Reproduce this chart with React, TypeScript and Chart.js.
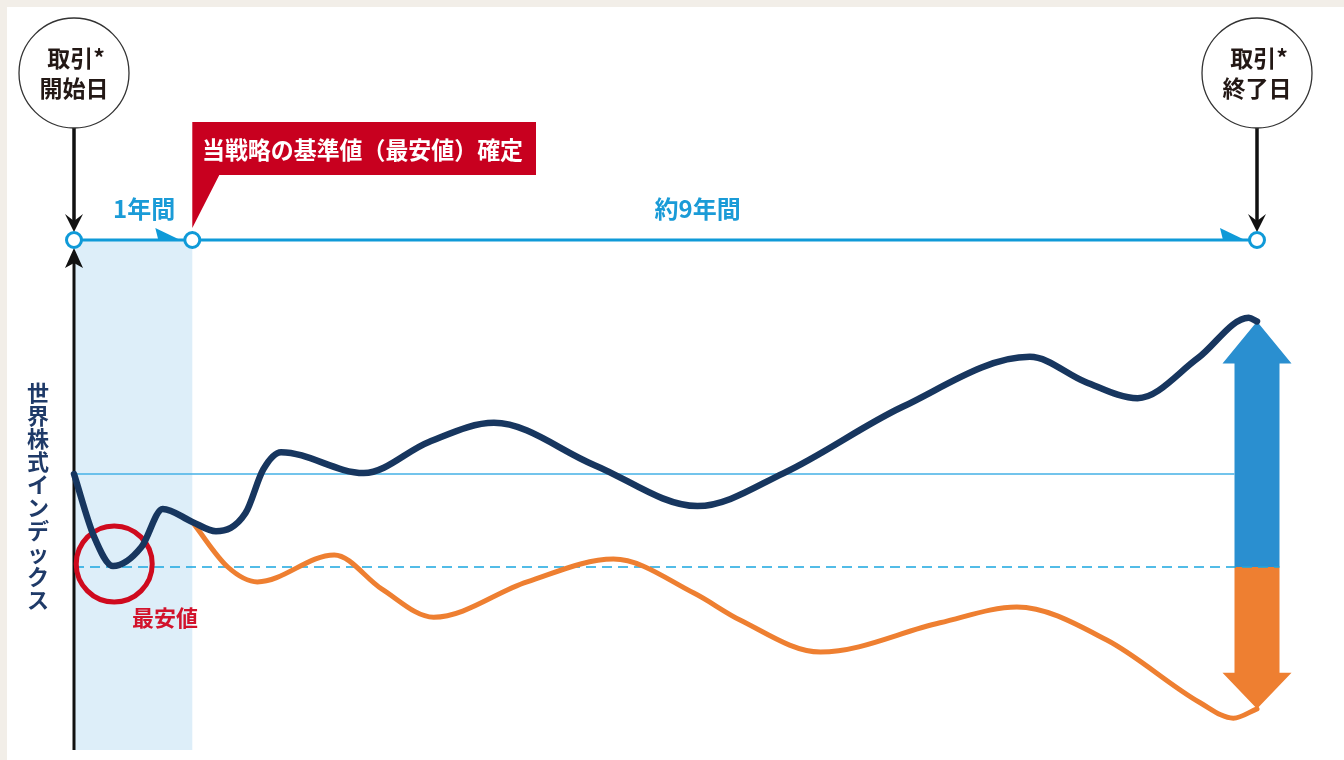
import React, { useEffect, useRef } from "react";
import { Chart, registerables } from "chart.js";

Chart.register(...registerables);

// Years since the trade start date (x) and index level (y, start = 100)
const navyX = [0, 0.17, 0.33, 0.57, 0.75, 1.0, 1.2, 1.45, 1.6, 1.75, 2.45, 3.0, 3.55, 4.4, 5.27, 6.0, 7.0, 8.08, 8.55, 8.99, 9.5, 9.93, 10];
const navyY = [100, 86.5, 80.2, 84.3, 92.5, 89.7, 87.7, 91.6, 101.0, 104.7, 100.2, 106.9, 111.0, 101.9, 93.1, 100.2, 114.4, 125.2, 119.8, 116.3, 124.9, 133.6, 132.8];

const orangeX = [1.0, 1.3, 1.55, 2.2, 2.6, 3.04, 3.83, 4.56, 5.24, 5.63, 6.31, 7.32, 7.97, 8.73, 9.52, 9.8, 10];
const orangeY = [89.7, 80.0, 76.8, 82.6, 75.3, 69.2, 76.8, 81.7, 74.4, 68.6, 61.7, 68.0, 71.4, 64.3, 50.8, 47.5, 49.5];

const startLevel = 100;
const minLevel = 80;
const startYear = 0;
const fixYear = 1;
const endYear = 10;

const startLabel = ["取引*", "開始日"];
const endLabel = ["取引*", "終了日"];
const calloutLabel = "当戦略の基準値（最安値）確定";
const firstPeriodLabel = "1年間";
const restPeriodLabel = "約9年間";
const minLabel = "最安値";
const yAxisLabel = "世界株式インデックス";

const JP = '"Noto Sans CJK JP", "Noto Sans", sans-serif';

const decorPlugin = {
  id: "decor",
  beforeDraw(chart: any) {
    const { ctx, width, height } = chart;
    ctx.save();
    ctx.fillStyle = "#f2eee8";
    ctx.fillRect(0, 0, width, height);
    ctx.fillStyle = "#ffffff";
    ctx.fillRect(7, 7, width - 7, height - 7);
    ctx.restore();
  },
  beforeDatasetsDraw(chart: any) {
    const { ctx } = chart;
    const xs = chart.scales.x;
    const ys = chart.scales.y;
    const X = (v: number) => xs.getPixelForValue(v);
    const Y = (v: number) => ys.getPixelForValue(v);
    const tlY = 240;
    const x0 = X(startYear);
    const x1 = X(fixYear);
    const xe = X(endYear);
    ctx.save();
    // shaded first year
    ctx.fillStyle = "#ddeef9";
    ctx.fillRect(x0 + 1, tlY, x1 - x0 - 1, 750 - tlY);

    // vertical axis with arrow
    ctx.strokeStyle = "#111";
    ctx.lineWidth = 3;
    ctx.beginPath();
    ctx.moveTo(x0, 750);
    ctx.lineTo(x0, 262);
    ctx.stroke();
    ctx.fillStyle = "#111";
    ctx.beginPath();
    ctx.moveTo(x0, 248);
    ctx.lineTo(x0 - 9, 268);
    ctx.lineTo(x0, 263);
    ctx.lineTo(x0 + 9, 268);
    ctx.closePath();
    ctx.fill();

    // arrows at the end
    const shaftHalf = 22.5;
    const headHalf = 34.5;
    const yMin = Y(minLevel);
    const yTop = Y(navyY[navyY.length - 1]);
    const yBot = Y(orangeY[orangeY.length - 1]);
    ctx.fillStyle = "#2a8fd0";
    ctx.beginPath();
    ctx.moveTo(xe - shaftHalf, yMin);
    ctx.lineTo(xe - shaftHalf, yTop + 42);
    ctx.lineTo(xe - headHalf, yTop + 42);
    ctx.lineTo(xe, yTop);
    ctx.lineTo(xe + headHalf, yTop + 42);
    ctx.lineTo(xe + shaftHalf, yTop + 42);
    ctx.lineTo(xe + shaftHalf, yMin);
    ctx.closePath();
    ctx.fill();
    ctx.fillStyle = "#ee7f31";
    ctx.beginPath();
    ctx.moveTo(xe - shaftHalf, yMin);
    ctx.lineTo(xe - shaftHalf, yBot - 36);
    ctx.lineTo(xe - headHalf, yBot - 36);
    ctx.lineTo(xe, yBot);
    ctx.lineTo(xe + headHalf, yBot - 36);
    ctx.lineTo(xe + shaftHalf, yBot - 36);
    ctx.lineTo(xe + shaftHalf, yMin);
    ctx.closePath();
    ctx.fill();

    // start level (solid) and minimum level (dashed)
    ctx.strokeStyle = "#45b0e6";
    ctx.lineWidth = 1.6;
    ctx.beginPath();
    ctx.moveTo(x0, Y(startLevel));
    ctx.lineTo(xe - shaftHalf, Y(startLevel));
    ctx.stroke();
    ctx.strokeStyle = "#1aa6e0";
    ctx.setLineDash([10, 6]);
    ctx.beginPath();
    ctx.moveTo(x0, yMin);
    ctx.lineTo(xe + shaftHalf, yMin);
    ctx.stroke();
    ctx.setLineDash([]);

    // red circle around the minimum
    ctx.strokeStyle = "#cf0a1e";
    ctx.lineWidth = 5;
    ctx.beginPath();
    ctx.arc(X(0.34), yMin - 3, 38, 0, Math.PI * 2);
    ctx.stroke();
    ctx.restore();
  },
  afterDatasetsDraw(chart: any) {
    const { ctx } = chart;
    const xs = chart.scales.x;
    const X = (v: number) => xs.getPixelForValue(v);
    const tlY = 240;
    const x0 = X(startYear);
    const x1 = X(fixYear);
    const xe = X(endYear);
    const blue = "#0f9ad8";
    ctx.save();

    // timeline
    ctx.strokeStyle = blue;
    ctx.lineWidth = 3;
    ctx.beginPath();
    ctx.moveTo(x0, tlY);
    ctx.lineTo(xe, tlY);
    ctx.stroke();
    ctx.fillStyle = blue;
    const flag = (xr: number) => {
      ctx.beginPath();
      ctx.moveTo(xr - 25, tlY - 12);
      ctx.lineTo(xr - 22, tlY);
      ctx.lineTo(xr, tlY);
      ctx.closePath();
      ctx.fill();
    };
    flag(x1 - 12);
    flag(xe - 12);

    // down arrows from the circles
    const downArrow = (x: number) => {
      ctx.strokeStyle = "#111";
      ctx.lineWidth = 3.5;
      ctx.beginPath();
      ctx.moveTo(x, 128);
      ctx.lineTo(x, 222);
      ctx.stroke();
      ctx.fillStyle = "#111";
      ctx.beginPath();
      ctx.moveTo(x, 232);
      ctx.lineTo(x - 9, 214);
      ctx.lineTo(x, 221);
      ctx.lineTo(x + 9, 214);
      ctx.closePath();
      ctx.fill();
    };
    downArrow(x0);
    downArrow(xe);

    // timeline markers
    [x0, x1, xe].forEach((x) => {
      ctx.beginPath();
      ctx.arc(x, tlY, 7.5, 0, Math.PI * 2);
      ctx.fillStyle = "#fff";
      ctx.fill();
      ctx.strokeStyle = blue;
      ctx.lineWidth = 3;
      ctx.stroke();
    });

    // date circles
    const dateCircle = (x: number, lines: string[]) => {
      ctx.beginPath();
      ctx.arc(x, 73, 55, 0, Math.PI * 2);
      ctx.fillStyle = "#fff";
      ctx.fill();
      ctx.strokeStyle = "#333";
      ctx.lineWidth = 1.3;
      ctx.stroke();
      ctx.fillStyle = "#231815";
      ctx.font = `bold 23px ${JP}`;
      ctx.textAlign = "center";
      ctx.textBaseline = "middle";
      ctx.fillText(lines[0], x + 2, 58);
      ctx.fillText(lines[1], x, 88);
    };
    dateCircle(x0, startLabel);
    dateCircle(xe, endLabel);

    // callout
    ctx.fillStyle = "#c8001f";
    ctx.beginPath();
    ctx.moveTo(x1, 122);
    ctx.lineTo(536, 122);
    ctx.lineTo(536, 175);
    ctx.lineTo(x1 + 27, 175);
    ctx.lineTo(x1, 228);
    ctx.closePath();
    ctx.fill();
    ctx.fillStyle = "#fff";
    ctx.font = `bold 24px ${JP}`;
    ctx.textAlign = "left";
    ctx.textBaseline = "middle";
    const w = ctx.measureText(calloutLabel).width;
    const target = 321;
    ctx.save();
    ctx.translate(202, 150);
    ctx.scale(target / w, 1);
    ctx.fillText(calloutLabel, 0, 0);
    ctx.restore();

    // period labels
    ctx.fillStyle = "#1a9bd7";
    ctx.font = `bold 24px ${JP}`;
    ctx.textAlign = "center";
    ctx.fillText(firstPeriodLabel, (x0 + x1) / 2 + 11, 209);
    ctx.fillText(restPeriodLabel, (x1 + xe) / 2 - 27, 209);

    // minimum label
    ctx.fillStyle = "#d2132c";
    ctx.font = `bold 22px ${JP}`;
    ctx.fillText(minLabel, X(0.77), 618);

    // vertical y label
    ctx.fillStyle = "#1f3a68";
    ctx.font = `bold 22px ${JP}`;
    const chars = Array.from(yAxisLabel);
    chars.forEach((c, i) => {
      ctx.fillText(c, 38, 393 + i * 23);
    });
    ctx.restore();
  },
};

export default function App() {
  const ref = useRef<HTMLCanvasElement | null>(null);
  useEffect(() => {
    if (!ref.current) return;
    const chart = new Chart(ref.current, {
      type: "line",
      data: {
        datasets: [
          {
            label: "世界株式インデックス",
            data: navyX.map((x, i) => ({ x, y: navyY[i] })),
            borderColor: "#17365f",
            borderWidth: 6.5,
            borderCapStyle: "round",
            borderJoinStyle: "round",
            cubicInterpolationMode: "monotone",
            pointRadius: 0,
            fill: false,
            clip: 20,
          },
          {
            label: "当戦略",
            data: orangeX.map((x, i) => ({ x, y: orangeY[i] })),
            borderColor: "#ee7f31",
            borderWidth: 5,
            borderCapStyle: "round",
            borderJoinStyle: "round",
            cubicInterpolationMode: "monotone",
            pointRadius: 0,
            fill: false,
            clip: 20,
          },
        ],
      },
      options: {
        animation: false,
        responsive: false,
        maintainAspectRatio: false,
        layout: { padding: { left: 74, right: 87, top: 241.5, bottom: 7 } },
        scales: {
          x: { type: "linear", min: 0, max: 10, display: false },
          y: { type: "linear", min: 40, max: 150, display: false },
        },
        plugins: { legend: { display: false }, tooltip: { enabled: false } },
        events: [],
      },
      plugins: [decorPlugin],
    } as any);
    return () => chart.destroy();
  }, []);
  return (
    <div style={{ position: "absolute", left: 0, top: 0, width: 1344, height: 760 }}>
      <canvas ref={ref} width={1344} height={760} style={{ display: "block" }} />
    </div>
  );
}
